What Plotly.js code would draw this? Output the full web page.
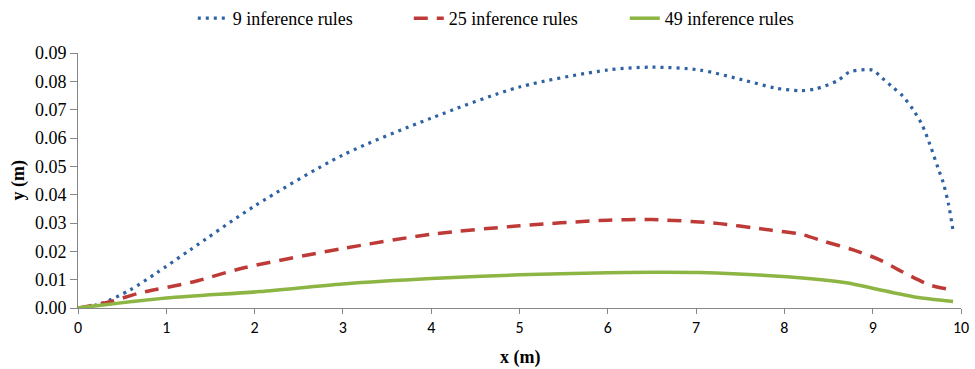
<!DOCTYPE html>
<html>
<head>
<meta charset="utf-8">
<script src="https://cdn.plot.ly/plotly-3.0.1.min.js"></script>
<style>html,body{margin:0;padding:0;background:#fff;}#chart{width:975px;height:369px;}</style>
</head>
<body>
<div id="chart"></div>
<script>
const seriesNames = ["9 inference rules", "25 inference rules", "49 inference rules"];

const x9 = [0, 0.25, 0.59, 0.89, 1.27, 2, 3, 4, 5, 6, 6.5, 7.04, 7.53, 7.9, 8.18, 8.35, 8.6, 8.74, 9.0, 9.08, 9.22, 9.34, 9.46, 9.56, 9.65, 9.74, 9.8, 9.86, 9.91];
const y9 = [0, 0.0014, 0.0064, 0.0124, 0.0205, 0.036, 0.054, 0.067, 0.078, 0.084, 0.085, 0.084, 0.0805, 0.0776, 0.0767, 0.0773, 0.0802, 0.0833, 0.084, 0.0819, 0.0781, 0.0748, 0.0699, 0.0646, 0.0575, 0.0494, 0.0441, 0.0364, 0.0273];

const x25 = [0, 0.36, 0.70, 1.3, 1.87, 3, 4, 5, 6, 6.5, 7.19, 7.84, 8.18, 8.44, 8.78, 9.08, 9.34, 9.65, 9.9];
const y25 = [0, 0.0022, 0.0053, 0.0092, 0.0141, 0.021, 0.026, 0.029, 0.031, 0.0312, 0.030, 0.0275, 0.0261, 0.0236, 0.0205, 0.017, 0.0127, 0.0081, 0.0064];

const x49 = [0, 1, 2.06, 3, 4, 5, 6, 6.5, 7.04, 8.03, 8.7, 9.0, 9.46, 9.91];
const y49 = [0, 0.0035, 0.0058, 0.0085, 0.0104, 0.0117, 0.0124, 0.0126, 0.0125, 0.011, 0.0089, 0.007, 0.004, 0.0023];

const xTicks = [0,1,2,3,4,5,6,7,8,9,10];
const yTicks = [0, 0.01, 0.02, 0.03, 0.04, 0.05, 0.06, 0.07, 0.08, 0.09];

const SERIF = 'Liberation Serif, Times New Roman, serif';
const SANS = 'Carlito, Lato, Liberation Sans, sans-serif';

const traces = [
  {x: x9, y: y9, name: seriesNames[0], mode: 'lines', line: {color: '#2F62A3', width: 3.2, dash: '3px,5px', shape: 'spline', smoothing: 0.8}},
  {x: x25, y: y25, name: seriesNames[1], mode: 'lines', line: {color: '#BE3A36', width: 3.5, dash: '14px,9px', shape: 'spline', smoothing: 0.8}},
  {x: x49, y: y49, name: seriesNames[2], mode: 'lines', line: {color: '#8DB544', width: 3.5, shape: 'spline', smoothing: 0.8}}
];

const layout = {
  width: 975, height: 369,
  margin: {l: 78, r: 14, t: 53, b: 61},
  paper_bgcolor: '#fff', plot_bgcolor: '#fff',
  font: {family: SERIF, size: 15, color: '#000'},
  showlegend: true,
  legend: {orientation: 'h', x: 0.130, xanchor: 'left', y: 1.0, yref: 'container', yanchor: 'top',
           font: {family: SERIF, size: 18, color: '#000'}, entrywidth: 171, entrywidthmode: 'pixels', tracegroupgap: 0},
  xaxis: {
    range: [0, 10], tickvals: xTicks, ticktext: xTicks.map(String),
    showgrid: false, zeroline: false, showline: true, linecolor: '#868686', linewidth: 1,
    ticks: 'outside', ticklen: 5, tickcolor: '#868686',
    tickfont: {family: SANS, size: 16, color: '#000'},
    fixedrange: true
  },
  yaxis: {
    range: [0, 0.09], tickvals: yTicks, ticktext: yTicks.map(v => v.toFixed(2)),
    showgrid: false, zeroline: false, showline: true, linecolor: '#868686', linewidth: 1,
    ticks: 'outside', ticklen: 7, tickcolor: '#868686',
    tickfont: {family: SERIF, size: 18, color: '#000'},
    fixedrange: true
  },
  annotations: [
    {text: '<b>x (m)</b>', xref: 'paper', yref: 'paper', x: 0.5, y: 0, yshift: -49, xanchor: 'center', yanchor: 'middle', showarrow: false,
     font: {family: SERIF, size: 18, color: '#000'}},
    {text: '<b>y (m)</b>', xref: 'paper', yref: 'paper', x: 0, xshift: -60, y: 0.5, xanchor: 'center', yanchor: 'middle', textangle: -90, showarrow: false,
     font: {family: SERIF, size: 18, color: '#000'}}
  ]
};

Plotly.newPlot('chart', traces, layout, {displayModeBar: false, staticPlot: true});
</script>
</body>
</html>
